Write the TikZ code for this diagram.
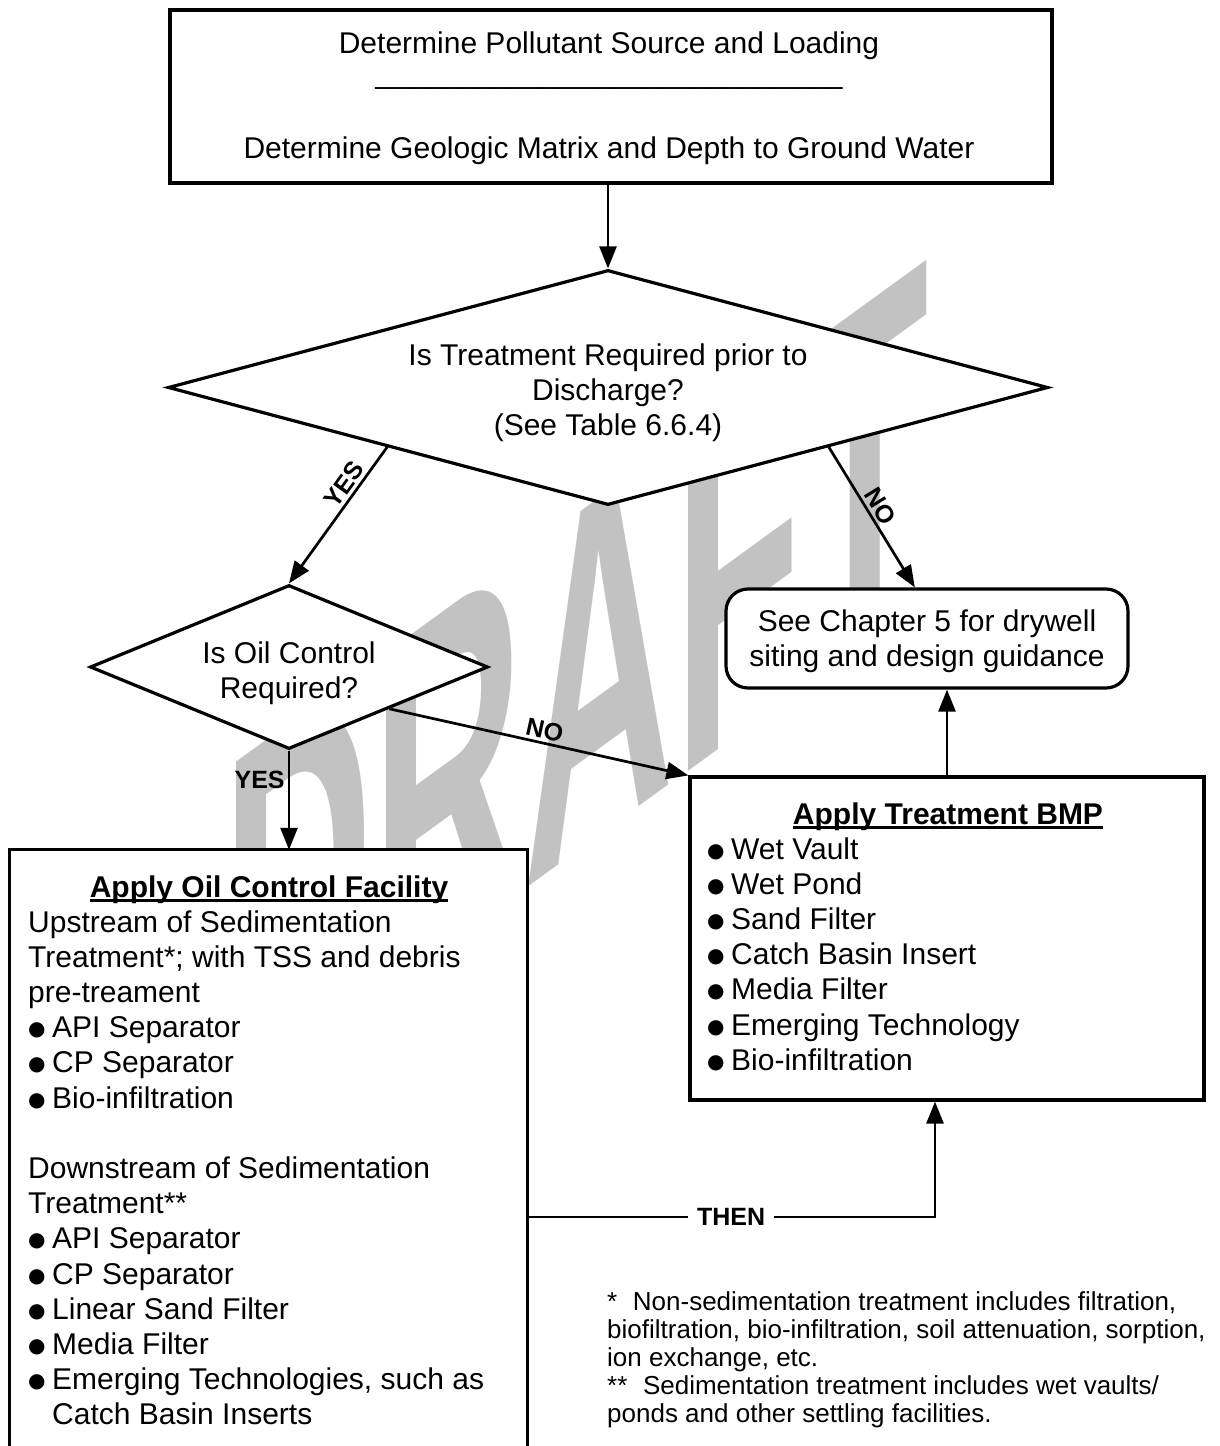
\documentclass[tikz,border=0pt]{standalone}
\usepackage{fontspec}
\setmainfont{Liberation Sans}
\newfontfamily\symf{DejaVu Sans}
\usetikzlibrary{shapes.geometric,arrows.meta,calc}
\newcommand{\myul}[1]{\setbox0=\hbox{#1}\rlap{\rule[-4.6pt]{\wd0}{2.4pt}}\box0}
\newcommand{\bulb}[1]{\makebox[#1][l]{\hspace{2pt}\raisebox{2pt}{\symf\fontsize{20}{20}\selectfont ●}}}
\tikzset{
  box/.style={draw, line width=3.2pt, fill=white, inner sep=0pt},
  dia/.style={draw, diamond, line width=3.2pt, fill=white, inner sep=0pt},
  conn/.style={line width=2.7pt, -{Triangle[length=22pt,width=17pt]}},
  txt/.style={inner sep=0pt, font=\fontsize{30}{35}\selectfont},
  lab/.style={inner sep=3pt, font=\fontsize{25}{28}\selectfont\bfseries},
  foot/.style={inner sep=0pt, anchor=base west, font=\fontsize{26}{28}\selectfont},
}
\begin{document}
\begin{tikzpicture}[x=1pt,y=-1pt]
\useasboundingbox (0,0) rectangle (1220,1446);
\fill[white] (0,0) rectangle (1220,1446);

% watermark
\begin{scope}[shift={(222,1110)}, cm={0.809,0.588,0,1.9,(0,0)}]
  \node[transform shape, anchor=base west, inner sep=0pt, text=black!24,
        font=\fontsize{258}{258}\selectfont\bfseries] (wm) at (0,0) {DRAFT};
\end{scope}

% top box
\node[box, minimum width=882pt, minimum height=173pt] (top) at (611,96.5) {};
\node[txt, anchor=base] (t1) at (609,53) {Determine Pollutant Source and Loading};
\node[txt, anchor=base] (t2) at (609,83) {\_\_\_\_\_\_\_\_\_\_\_\_\_\_\_\_\_\_\_\_\_\_\_\_\_\_\_\_};
\node[txt, anchor=base] (t3) at (609,158) {Determine Geologic Matrix and Depth to Ground Water};

% decision 1
\node[dia, minimum width=880pt, minimum height=235pt] (d1) at (608,387.5) {};
\node[txt, anchor=base] (d1a) at (608,365) {Is Treatment Required prior to};
\node[txt, anchor=base] (d1b) at (608,400) {Discharge?};
\node[txt, anchor=base] (d1c) at (608,435) {(See Table 6.6.4)};

% decision 2
\node[dia, minimum width=398pt, minimum height=164pt] (d2) at (289,667) {};
\node[txt, anchor=base] (d2a) at (289,663) {Is Oil Control};
\node[txt, anchor=base] (d2b) at (289,698) {Required?};

% chapter 5 box
\node[box, rounded corners=22pt, minimum width=402pt, minimum height=99pt] (chap) at (927,638.5) {};
\node[txt, anchor=base] (c1) at (927,631) {See Chapter 5 for drywell};
\node[txt, anchor=base] (c2) at (927,666) {siting and design guidance};

% treatment BMP box
\node[box, minimum width=514pt, minimum height=323pt] (bmp) at (947,938.5) {};
\node[txt, anchor=base] (bt) at (948,824) {\myul{\bfseries Apply Treatment BMP}};
\node[txt, anchor=base west] (b1) at (705,859.0) {\bulb{26pt}Wet Vault};
\node[txt, anchor=base west] (b2) at (705,894.2) {\bulb{26pt}Wet Pond};
\node[txt, anchor=base west] (b3) at (705,929.4) {\bulb{26pt}Sand Filter};
\node[txt, anchor=base west] (b4) at (705,964.6) {\bulb{26pt}Catch Basin Insert};
\node[txt, anchor=base west] (b5) at (705,999.8) {\bulb{26pt}Media Filter};
\node[txt, anchor=base west] (b6) at (705,1035.0) {\bulb{26pt}Emerging Technology};
\node[txt, anchor=base west] (b7) at (705,1070.2) {\bulb{26pt}Bio-infiltration};

% oil control box (open at the bottom of the page)
\node[fill=white, inner sep=0pt, minimum width=517pt, minimum height=598pt] (oil) at (268.5,1149) {};
\draw[line width=3.2pt] (oil.south west) -- (oil.north west) -- (oil.north east) -- (oil.south east);
\node[txt, anchor=base] (ot) at (269,897) {\myul{\bfseries Apply Oil Control Facility}};
\node[txt, anchor=base west] (o1) at (28,932.0) {Upstream of Sedimentation};
\node[txt, anchor=base west] (o2) at (28,967.2) {Treatment*; with TSS and debris};
\node[txt, anchor=base west] (o3) at (28,1002.4) {pre-treament};
\node[txt, anchor=base west] (o4) at (26,1037.6) {\bulb{26pt}API Separator};
\node[txt, anchor=base west] (o5) at (26,1072.8) {\bulb{26pt}CP Separator};
\node[txt, anchor=base west] (o6) at (26,1108.0) {\bulb{26pt}Bio-infiltration};
\node[txt, anchor=base west] (o7) at (28,1178.4) {Downstream of Sedimentation};
\node[txt, anchor=base west] (o8) at (28,1213.6) {Treatment**};
\node[txt, anchor=base west] (o9) at (26,1248.8) {\bulb{26pt}API Separator};
\node[txt, anchor=base west] (o10) at (26,1284.0) {\bulb{26pt}CP Separator};
\node[txt, anchor=base west] (o11) at (26,1319.2) {\bulb{26pt}Linear Sand Filter};
\node[txt, anchor=base west] (o12) at (26,1354.4) {\bulb{26pt}Media Filter};
\node[txt, anchor=base west] (o13) at (26,1389.6) {\bulb{26pt}Emerging Technologies, such as};
\node[txt, anchor=base west] (o14) at (52,1424.8) {Catch Basin Inserts};

% footnotes
\node[foot] (f1) at (607,1310) {*\hspace{0.6em}Non-sedimentation treatment includes filtration,};
\node[foot] (f2) at (607,1338) {biofiltration, bio-infiltration, soil attenuation, sorption,};
\node[foot] (f3) at (607,1366) {ion exchange, etc.};
\node[foot] (f4) at (607,1394) {**\hspace{0.6em}Sedimentation treatment includes wet vaults/};
\node[foot] (f5) at (607,1422) {ponds and other settling facilities.};

% connectors
\draw[conn] (top.south -| d1.north) -- (d1.north);
\draw[conn] ($(d1.west)!0.5!(d1.south)$) -- node[lab, sloped, above, pos=0.33] (yes1) {YES} (d2.north);
\draw[conn] ($(d1.south)!0.5!(d1.east)$) -- node[lab, sloped, above, pos=0.47] (no1) {NO}
      ($(chap.north west)!0.47!(chap.north east)$);
\draw[conn] (d2.south) -- node[lab, left, pos=0.3] (yes2) {YES} (d2.south |- oil.north);
\draw[conn] ($(d2.south)!0.5!(d2.east)$) -- node[lab, sloped, above, pos=0.51] (no2) {NO} (bmp.north west);
\draw[conn] (bmp.north) -- (bmp.north |- chap.south);
\coordinate (thc) at (935,1217);
\draw[conn] (oil.east |- thc) -- node[lab, fill=white, inner xsep=9pt] (then) {THEN} (thc) -- (thc |- bmp.south);
\end{tikzpicture}
\end{document}
